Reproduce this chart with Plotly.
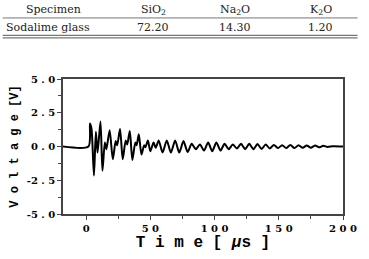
import plotly.graph_objects as go

# Signal (time in µs, voltage in V) — turning points of the trace
time_us = [-18, 1.8, 3.0, 4.2, 6.1, 7.6, 8.9, 11.2, 12.7, 14.6, 15.8, 18.3, 20.8, 23.0, 24.2,
           26.4, 28.5, 30.8, 32.0, 34.0, 36.0, 38.3, 39.3, 41.0, 43.1, 45.2, 46.2, 48.1, 50.0,
           52.5, 54.2, 56.5, 59.5, 62.8, 66.0, 69.3, 72.5, 75.8, 79.0, 82.2, 85.4, 88.6, 91.8,
           95.0, 98.2, 101.4, 104.6, 107.8, 111.0, 114.2, 117.4, 120.6, 123.8, 127.0, 130.2,
           133.4, 136.6, 139.8, 143.0, 146.2, 149.4, 152.6, 155.8, 159.0, 162.2, 165.4, 168.6,
           171.8, 175.0, 178.2, 181.4, 184.6, 188.0, 192.0, 200.0]
voltage_v = [0, 0, 1.7, 1.3, -2.15, 1.1, -0.45, 1.85, -1.8, 0.3, -0.2, 1.2, -0.95, 0.4, 0.1,
             1.3, -0.95, 0.45, 0.15, 1.15, -1.0, 0.3, 0.1, 0.9, -0.6, 0.1, -0.05, 0.45, -0.35,
             0.3, -0.1, 0.45, -0.45, 0.45, -0.45, 0.45, -0.45, 0.4, -0.4, 0.2, -0.2, 0.15, -0.3,
             0.3, -0.35, 0.3, -0.3, 0.2, -0.2, 0.15, -0.15, 0.2, -0.2, 0.2, -0.2,
             0.18, -0.18, 0.15, -0.15, 0.12, -0.12, 0.1, -0.12, 0.12, -0.12, 0.1, -0.1,
             0.08, -0.1, 0.08, -0.06, 0.05, -0.03, 0.02, 0]

# Table
table_header = ["Specimen", "SiO<sub>2</sub>", "Na<sub>2</sub>O", "K<sub>2</sub>O"]
table_row = ["Sodalime glass", "72.20", "14.30", "1.20"]

x_tickvals = [0, 50, 100, 150, 200]
x_ticktext = ["0", "5 0", "1 0 0", "1 5 0", "2 0 0"]
y_tickvals = [-5, -2.5, 0, 2.5, 5]
y_ticktext = ["-5 . 0", "-2 . 5", "0 . 0", "2 . 5", "5 . 0"]

W, H = 369, 259
fig = go.Figure()
fig.add_trace(go.Scatter(x=time_us, y=voltage_v, mode="lines",
                         line=dict(color="black", width=2, shape="spline", smoothing=0.7),
                         showlegend=False, hoverinfo="skip"))

axis_common = dict(showgrid=False, zeroline=False, showline=True, linecolor="#444",
                   linewidth=1.5, mirror=True, ticks="outside", tickcolor="#444",
                   tickwidth=1, ticklen=4,
                   tickfont=dict(family="DejaVu Serif", size=10, color="black", weight="bold"))

fig.update_xaxes(range=[-18, 200], tickvals=x_tickvals, ticktext=x_ticktext,
                 minor=dict(tick0=25, dtick=50, ticks="outside", ticklen=3, tickcolor="#444"),
                 title=dict(text="T i m e [ <i>µ</i>s ]",
                            font=dict(family="Liberation Mono", size=16, color="black", weight="bold"),
                            standoff=2),
                 **axis_common)
fig.update_yaxes(range=[-5, 5], tickvals=y_tickvals, ticktext=y_ticktext,
                 minor=dict(tick0=1.25, dtick=2.5, ticks="outside", ticklen=3, tickcolor="#444"),
                 title=dict(text="V o l t a g e [V]",
                            font=dict(family="Liberation Mono", size=12, color="black", weight="bold"),
                            standoff=6),
                 **axis_common)

ml, mr, mt, mb = 62, 19, 79, 44
fig.update_layout(width=W, height=H, margin=dict(l=ml, r=mr, t=mt, b=mb),
                  plot_bgcolor="white", paper_bgcolor="white")

# helper for paper coords from pixel positions
def px(x):
    return (x - ml) / (W - ml - mr)

def py(y):
    return (H - mb - y) / (H - mt - mb)

col_x = [52, 155, 239, 327]
for cx, txt in zip(col_x, table_header):
    fig.add_annotation(x=px(cx), y=py(9), xref="paper", yref="paper", text=txt,
                       showarrow=False, xanchor="center", yanchor="middle",
                       font=dict(family="DejaVu Serif", size=11, color="#222"))
for cx, txt in zip(col_x, table_row):
    fig.add_annotation(x=px(cx if cx != 52 else 47), y=py(27), xref="paper", yref="paper", text=txt,
                       showarrow=False, xanchor="center", yanchor="middle",
                       font=dict(family="DejaVu Serif", size=11, color="#222"))
for yy, lw in [(17.5, 1), (35, 1.2), (37.5, 1.2)]:
    fig.add_shape(type="line", xref="paper", yref="paper", x0=px(0), x1=px(365),
                  y0=py(yy), y1=py(yy), line=dict(color="#777", width=lw))

fig.write_html("out.html")
